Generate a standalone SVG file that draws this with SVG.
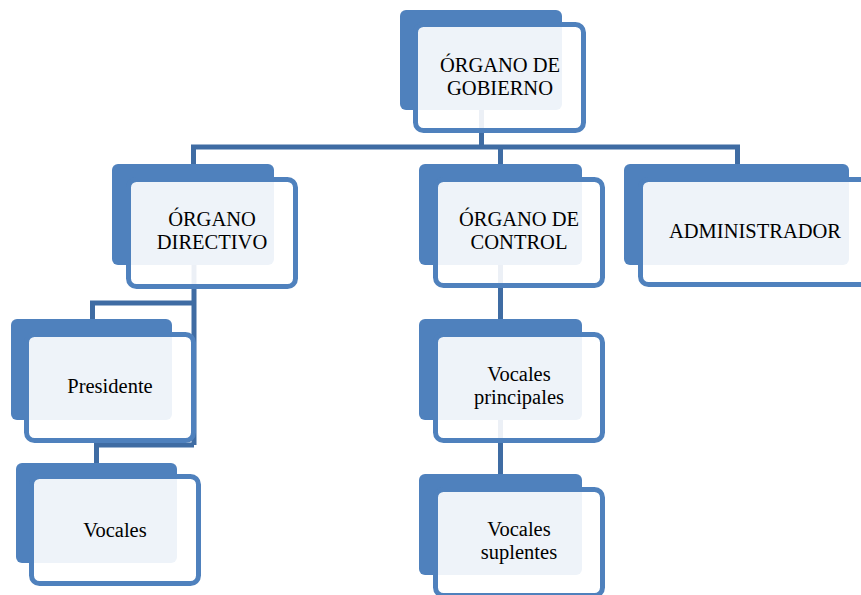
<svg xmlns="http://www.w3.org/2000/svg" width="861" height="595" viewBox="0 0 861 595">
<style>
.bk{fill:#4f81bd}
.fr{fill:#ffffff;fill-opacity:0.9;stroke:#4f81bd;stroke-width:5}
.cn{fill:none;stroke:#3f6ca3;stroke-width:5}
text{font-family:"Liberation Serif","Times New Roman",serif;font-size:20.5px;fill:#000;text-anchor:middle}
</style>
<rect width="861" height="595" fill="#ffffff"/>
<g id="connectors">
<path class="cn" d="M481.5,110 V147"/>
<path class="cn" d="M193.5,164 V147 H737.5 V164"/>
<path class="cn" d="M500.5,147 V164"/>
<path class="cn" d="M194,265 V445"/>
<path class="cn" d="M92.5,319 V303 H194"/>
<path class="cn" d="M96.5,463 V445 H194"/>
<path class="cn" d="M500.5,265 V319"/>
<path class="cn" d="M500.5,420 V474"/>
</g>
<g id="gobierno">
<rect class="bk" x="400" y="10" width="162" height="100" rx="6"/>
<rect class="fr" x="415.5" y="24.5" width="168" height="106" rx="8"/>
<text x="500" y="72">ÓRGANO DE</text>
<text x="500" y="95">GOBIERNO</text>
</g>
<g id="directivo">
<rect class="bk" x="112" y="164" width="162" height="101" rx="6"/>
<rect class="fr" x="128.5" y="179.5" width="167" height="107" rx="8"/>
<text x="212" y="226">ÓRGANO</text>
<text x="212" y="249">DIRECTIVO</text>
</g>
<g id="control">
<rect class="bk" x="419" y="164" width="163" height="101" rx="6"/>
<rect class="fr" x="435.5" y="179.5" width="167" height="106" rx="8"/>
<text x="519" y="226">ÓRGANO DE</text>
<text x="519" y="249">CONTROL</text>
</g>
<g id="administrador">
<rect class="bk" x="624" y="164" width="225" height="101" rx="6"/>
<rect class="fr" x="640.5" y="179.5" width="230" height="105" rx="8"/>
<text x="755" y="238">ADMINISTRADOR</text>
</g>
<g id="presidente">
<rect class="bk" x="11" y="319" width="161" height="101" rx="6"/>
<rect class="fr" x="26.5" y="334.5" width="167" height="106" rx="8"/>
<text x="110" y="393">Presidente</text>
</g>
<g id="vocales">
<rect class="bk" x="16" y="463" width="161" height="100" rx="6"/>
<rect class="fr" x="31.5" y="476.5" width="167" height="107" rx="8"/>
<text x="115" y="537">Vocales</text>
</g>
<g id="principales">
<rect class="bk" x="419" y="319" width="163" height="101" rx="6"/>
<rect class="fr" x="435.5" y="334.5" width="167" height="106" rx="8"/>
<text x="519" y="381">Vocales</text>
<text x="519" y="404">principales</text>
</g>
<g id="suplentes">
<rect class="bk" x="419" y="474" width="163" height="101" rx="6"/>
<rect class="fr" x="435.5" y="489.5" width="167" height="106" rx="8"/>
<text x="519" y="536">Vocales</text>
<text x="519" y="559">suplentes</text>
</g>
</svg>
